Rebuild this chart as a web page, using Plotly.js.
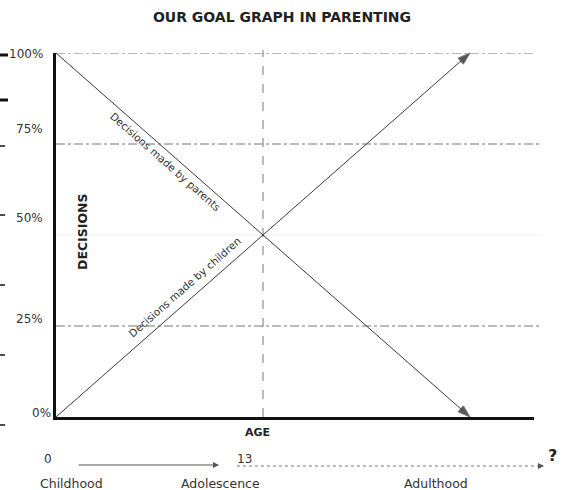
<!DOCTYPE html>
<html>
<head>
<meta charset="utf-8">
<script src="https://cdn.plot.ly/plotly-3.0.1.min.js"></script>
<style>html,body{margin:0;padding:0;background:#fff;}#chart{width:562px;height:490px;}</style>
</head>
<body>
<div id="chart"></div>
<script>
// ---- data ----
var ages = [0, 26];                       // age (years) at start and end of each line
var parentsShare = [100, 0];              // % of decisions made by parents
var childrenShare = [0, 100];             // % of decisions made by children
var tickValues = [0, 25, 50, 75, 100];
var tickLabels = ['0%', '25%', '50%', '75%', '100%'];
var gridValues = [25, 75, 100];
var adolescenceAge = 13;
var stageLabels = ['Childhood', 'Adolescence', 'Adulthood'];
var ageLabels = ['0', '13'];

// ---- geometry helpers (pixels -> paper) ----
var W = 562, H = 490, L = 56, R = 28, T = 53, B = 73;
var PW = W - L - R, PH = H - T - B;
var XMAX = 30.02;
function px(x) { return (x - L) / PW; }
function py(y) { return (H - B - y) / PH; }

var lineColor = '#3a3a3a';
var traces = [
  {x: ages, y: parentsShare, mode: 'lines+markers', cliponaxis: false,
   line: {color: lineColor, width: 1},
   marker: {symbol: 'arrow', angleref: 'previous', size: [0, 13], color: '#111'},
   hoverinfo: 'skip', showlegend: false},
  {x: ages, y: childrenShare, mode: 'lines+markers', cliponaxis: false,
   line: {color: lineColor, width: 1},
   marker: {symbol: 'arrow', angleref: 'previous', size: [0, 13], color: '#111'},
   hoverinfo: 'skip', showlegend: false}
];

var shapes = [];
gridValues.forEach(function (v) {
  shapes.push({type: 'line', xref: 'paper', yref: 'y', x0: 0, x1: v === 100 ? px(535) : px(540),
    y0: v, y1: v, line: {color: '#777', width: 1, dash: 'dashdot'}, layer: 'below'});
});
// faint 50% line
shapes.push({type: 'line', xref: 'paper', yref: 'y', x0: 0, x1: px(540), y0: 50, y1: 50,
  line: {color: '#eeeeee', width: 1}, layer: 'below'});
// vertical dashed line at adolescence
shapes.push({type: 'line', xref: 'x', yref: 'paper', x0: adolescenceAge, x1: adolescenceAge,
  y0: 0, y1: py(50), line: {color: '#777', width: 1, dash: 'dash'}, layer: 'below'});
// dotted age line 13 -> ?
shapes.push({type: 'line', xref: 'paper', yref: 'paper', x0: px(237), x1: px(540), y0: py(466), y1: py(466),
  line: {color: '#777', width: 1, dash: 'dot'}});
// scan artifacts at the left edge
[[55, 3, 8], [100, 3, 8], [146, 1.5, 5], [215, 1.5, 5], [285, 1.5, 5], [355, 1.5, 5], [425, 1.5, 5]].forEach(function (a) {
  shapes.push({type: 'line', xref: 'paper', yref: 'paper', x0: px(0), x1: px(a[2]), y0: py(a[0]), y1: py(a[0]),
    line: {color: '#111', width: a[1]}});
});

var annotations = [];
function txt(o) { o.showarrow = false; o.xanchor = o.xanchor || 'center'; o.yanchor = 'middle'; annotations.push(o); }
var tickShift = {0: 4, 25: 7, 50: 17, 75: 15, 100: -1};
tickValues.forEach(function (v, i) {
  txt({xref: 'paper', yref: 'y', x: v === 0 ? px(53) : px(45), y: v, yshift: tickShift[v],
    xanchor: 'right', text: tickLabels[i], font: {family: 'DejaVu Sans', size: 12, color: '#333'}});
});

// line labels positioned along the lines
var ang = Math.atan(PH / (26 * PW / XMAX)) * 180 / Math.PI;
function along(xs, ys, f) { return {x: xs[0] + (xs[1] - xs[0]) * f, y: ys[0] + (ys[1] - ys[0]) * f}; }
var pP = along(ages, parentsShare, 0.28);
txt({xref: 'x', yref: 'y', x: pP.x, y: pP.y, xshift: -6, yshift: -7, textangle: ang,
  text: 'Decisions made by parents', font: {family: 'DejaVu Sans', size: 10.5, color: '#333'}});
var pC = along(ages, childrenShare, 0.33);
txt({xref: 'x', yref: 'y', x: pC.x, y: pC.y, xshift: -8, yshift: 10, textangle: -ang,
  text: 'Decisions made by children', font: {family: 'DejaVu Sans', size: 10.5, color: '#333'}});

txt({xref: 'paper', yref: 'paper', x: px(82), y: py(232), textangle: -90,
  text: '<b>DECISIONS</b>', font: {family: 'DejaVu Sans', size: 12.5, color: '#222'}});
txt({xref: 'paper', yref: 'paper', x: px(257), y: py(432),
  text: '<b>AGE</b>', font: {family: 'DejaVu Sans', size: 11, color: '#222'}});
txt({xref: 'paper', yref: 'paper', x: px(48), y: py(459),
  text: ageLabels[0], font: {family: 'DejaVu Sans', size: 12, color: '#333'}});
txt({xref: 'paper', yref: 'paper', x: px(244), y: py(459),
  text: ageLabels[1], font: {family: 'DejaVu Sans', size: 12, color: '#333'}});
txt({xref: 'paper', yref: 'paper', x: px(552), y: py(455),
  text: '<b>?</b>', font: {family: 'DejaVu Sans', size: 16, color: '#222'}});
// arrows at bottom
annotations.push({xref: 'paper', yref: 'paper', x: px(219), y: py(465), ax: -142, ay: 0, text: '',
  showarrow: true, arrowhead: 2, arrowsize: 1.2, arrowwidth: 1, arrowcolor: '#555', standoff: 0});
annotations.push({xref: 'paper', yref: 'paper', x: px(544), y: py(466), ax: -7, ay: 0, text: '',
  showarrow: true, arrowhead: 2, arrowsize: 1.2, arrowwidth: 1, arrowcolor: '#555', standoff: 0});
// stage labels
var stageX = [71, 220, 436];
stageLabels.forEach(function (s, i) {
  txt({xref: 'paper', yref: 'paper', x: px(stageX[i]), y: py(483),
    text: s, font: {family: 'DejaVu Sans', size: 12.5, color: '#333'}});
});

var layout = {
  width: W, height: H,
  margin: {l: L, r: R, t: T, b: B},
  paper_bgcolor: '#fff', plot_bgcolor: '#fff',
  title: {text: '<b>OUR GOAL GRAPH IN PARENTING</b>', xref: 'container', x: 282 / W, y: 1 - 17 / H,
    xanchor: 'center', yanchor: 'middle', font: {family: 'DejaVu Sans', size: 14, color: '#222'}},
  xaxis: {range: [0, XMAX], showgrid: false, zeroline: false, showticklabels: false, ticks: '',
    showline: true, linewidth: 3, linecolor: '#111', fixedrange: true},
  yaxis: {range: [0, 100], showgrid: false, zeroline: false, showticklabels: false, ticks: '',
    showline: true, linewidth: 3, linecolor: '#111', fixedrange: true},
  shapes: shapes,
  annotations: annotations,
  showlegend: false
};

Plotly.newPlot('chart', traces, layout, {displayModeBar: false, staticPlot: true});
</script>
</body>
</html>
